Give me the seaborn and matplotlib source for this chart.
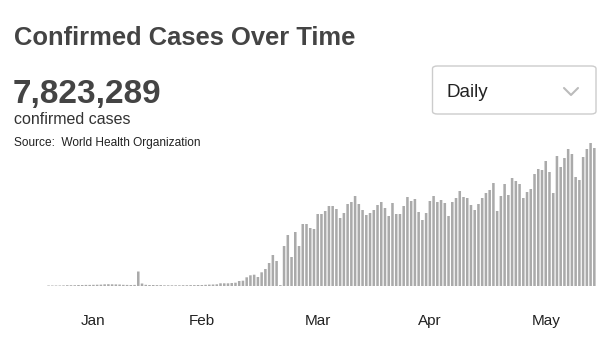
import numpy as np
import pandas as pd
import matplotlib
matplotlib.use("Agg")
import matplotlib.pyplot as plt
from matplotlib.patches import FancyBboxPatch
from matplotlib.lines import Line2D
import seaborn as sns

# ---------------- data (daily confirmed cases) ----------------
cases = [
    500, 500, 500, 500, 600, 800, 800, 800, 1000, 1000,
    1100, 1100, 1200, 1300, 1400, 1700, 1800, 1700, 1600, 1500,
    1200, 1100, 1000, 1100, 14500, 2500, 1200, 1000, 1000, 900,
    900, 700, 700, 700, 700, 700, 800, 800, 900, 900,
    1000, 1000, 1200, 1400, 1500, 1700, 2700, 2700, 2700, 3000,
    3300, 5000, 5300, 8700, 10700, 11300, 9000, 13700, 17000, 23000,
    31000, 25000, 900, 40000, 51000, 29000, 54000, 40000, 62000, 62000,
    58000, 57000, 72000, 72000, 75000, 80000, 80000, 77000, 68000, 73000,
    82000, 84000, 90000, 82000, 76000, 71000, 73000, 76000, 81000, 84000,
    78000, 70000, 83000, 72000, 72000, 80000, 89000, 85000, 87000, 74000,
    66000, 73000, 85000, 90000, 84000, 86000, 83000, 70000, 84000, 88000,
    95000, 89000, 88000, 81000, 76000, 82000, 88000, 93000, 96000, 103000,
    75000, 90000, 102000, 91000, 108000, 105000, 102000, 88000, 94000, 97000,
    112000, 117000, 116000, 125000, 114000, 93000, 130000, 119000, 128000, 137000,
    132000, 109000, 106000, 129000, 137000, 143000, 138000,
]
day_index = list(range(len(cases)))
tick_days = [12, 41, 72, 102, 133]
tick_labels = ["Jan", "Feb", "Mar", "Apr", "May"]

title = "Confirmed Cases Over Time"
total_text = "7,823,289"
total_caption = "confirmed cases"
source_text = "Source:  World Health Organization"
dropdown_text = "Daily"

df = pd.DataFrame({"day": day_index, "cases": cases})

# ---------------- figure ----------------
sns.set_theme(style="white")
plt.rcParams["font.family"] = ["Liberation Sans", "DejaVu Sans"]

W, H = 609, 337
fig = plt.figure(figsize=(W / 100, H / 100), dpi=100)
fig.patch.set_facecolor("white")


def fx(x):
    return x / W


def fy(y):
    return 1 - y / H


bar_color = "#aaaaaa"
ax = fig.add_axes([fx(46.7), fy(286), 549.5 / W, (286 - 140) / H])
sns.barplot(data=df, x="day", y="cases", color=bar_color, saturation=1,
            width=0.68, linewidth=0, ax=ax)
for p in ax.patches:
    p.set_snap(False)
ax.set_xlim(-0.5, len(cases) - 0.5)
ax.set_ylim(0, max(cases) * 1.021)
for s in ax.spines.values():
    s.set_visible(False)
ax.set_yticks([])
ax.set_xticks(tick_days)
ax.set_xticklabels(tick_labels, fontsize=11, color="#222222")
ax.tick_params(axis="x", length=0, pad=20)
ax.set_xlabel("")
ax.set_ylabel("")
ax.set_facecolor("none")

# ---------------- header texts ----------------
dark = "#444444"
fig.text(fx(14), fy(45), title, fontsize=18.4, fontweight="bold", color=dark,
         va="baseline", ha="left")
fig.text(fx(13), fy(103), total_text, fontsize=24, fontweight="bold", color=dark,
         va="baseline", ha="left")
fig.text(fx(14), fy(124), total_caption, fontsize=11.5, color="#333333",
         va="baseline", ha="left")
fig.text(fx(14), fy(146), source_text, fontsize=8.6, color="#222222",
         va="baseline", ha="left")

# ---------------- dropdown ----------------
box = FancyBboxPatch((fx(432.5), fy(114)), (596 - 432.5) / W, (114 - 66) / H,
                     boxstyle="round,pad=0,rounding_size=0.008",
                     transform=fig.transFigure, facecolor="white",
                     edgecolor="#cccccc", linewidth=1.0)
fig.add_artist(box)
fig.text(fx(447), fy(97), dropdown_text, fontsize=13.5, color="#222222",
         va="baseline", ha="left")
chev = Line2D([fx(564), fx(571), fx(578)], [fy(88), fy(95), fy(88)],
              transform=fig.transFigure, color="#bbbbbb", linewidth=1.5,
              solid_capstyle="round", solid_joinstyle="round")
fig.add_artist(chev)

fig.savefig("out.png", dpi=100, facecolor="white")
